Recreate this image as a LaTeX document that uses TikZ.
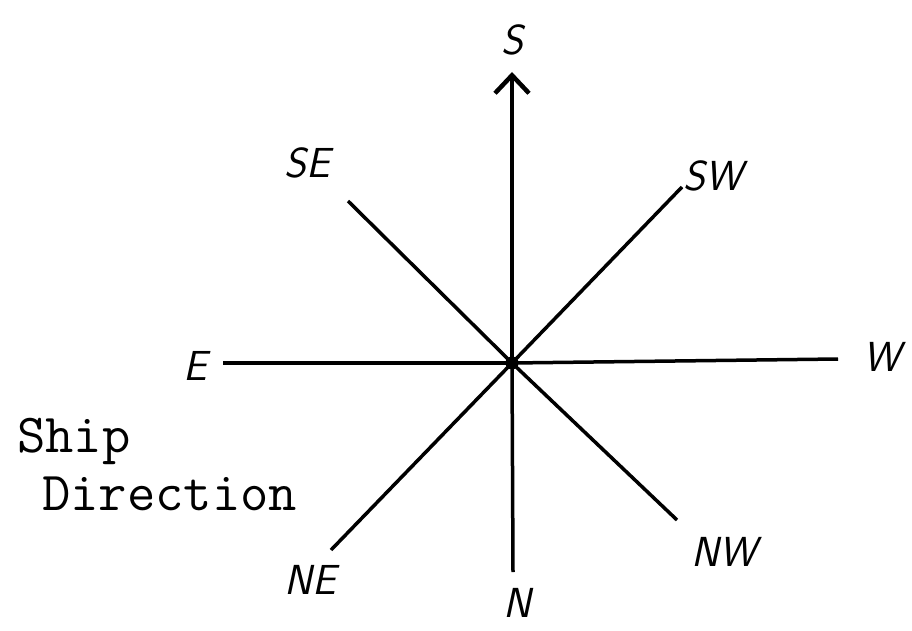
\documentclass[tikz,border=0pt]{standalone}
\usepackage{fontspec}
\usetikzlibrary{arrows.meta}

\tikzset{
  ray/.style={line width=3.5pt},
  hand/.style={font=\fontsize{42}{50}\selectfont\sffamily\itshape, inner sep=0pt},
  typed/.style={font=\fontsize{55}{62}\selectfont\ttfamily, inner sep=0pt, anchor=base west}
}

\begin{document}
\begin{tikzpicture}[x=1pt, y=-1pt]
  \useasboundingbox[fill=white] (0,0) rectangle (912,631);
  \coordinate (O) at (512,363);
  % ends of the rays and their letters
  \foreach \dir/\ex/\ey/\lx/\ly in {N/513/572/517/603, E/223/363/195/366, W/838/359/882/357,
      SE/348/201/307/163, SW/682/187/713/176, NE/331/550/310/580, NW/677/520/724/552} {
    \coordinate (end\dir) at (\ex,\ey);
    \draw[ray] (O) -- (end\dir);
    \node[hand] (lab\dir) at (\lx,\ly) {\dir};
  }
  \coordinate (endS) at (512,72);
  \draw[ray, -{Straight Barb[length=18pt, width=34pt, line width=4.5pt]}] (O) -- (endS);
  \node[hand] (labS) at (512,40) {S};
  \fill (O) circle (6.5);

  \node[typed] (ship) at (17,452) {Ship};
  \node[typed] (dir) at (42,510) {Direction};
\end{tikzpicture}
\end{document}
